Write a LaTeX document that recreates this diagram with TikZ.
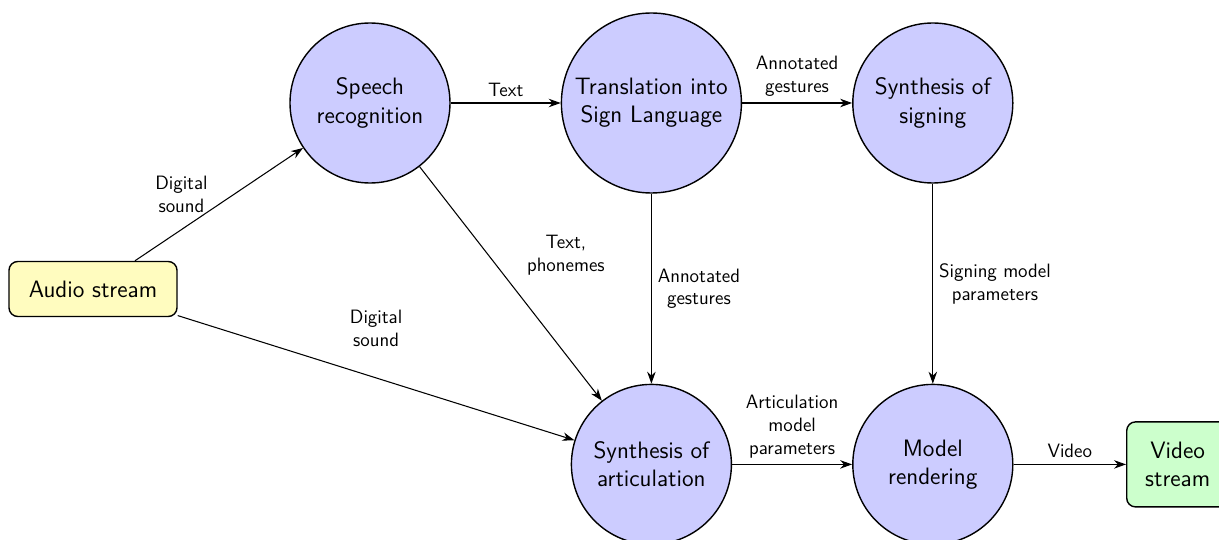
\documentclass[tikz,border=0pt]{standalone}
\usepackage{tikz}
\usetikzlibrary{arrows, arrows.meta, calc, positioning}

\begin{document}
\begin{tikzpicture}[font=\sffamily,>={Stealth[length=2.4mm,width=1.7mm]},
	stagestyle/.style={
	draw,circle,thick,fill=blue!20,minimum size=3.2cm,align=center,font=\sffamily\fontsize{13.5}{16}\selectfont,inner sep=0pt
},
	streamstyle/.style={
	draw,rectangle,rounded corners=5pt,align=center,font=\sffamily\fontsize{13.5}{16}\selectfont,thick
},
	lbl/.style={align=center,font=\sffamily\fontsize{11}{13}\selectfont}]
	\useasboundingbox (0,0) rectangle (24.38,-10.8);

	\node[streamstyle,fill=yellow!25,minimum width=3.36cm,minimum height=1.1cm] at (1.86,-5.78) (audio) {Audio stream};

	\node[stagestyle] at (7.4,-2.06) (speech) {Speech\\recognition};
	\node[stagestyle,minimum size=3.6cm,right=2.2cm of speech] (trans) {Translation into\\Sign Language};
	\node[stagestyle,right=2.2cm of trans] (signing) {Synthesis of\\signing};
	\node[stagestyle,below=3.8cm of trans] (artic) {Synthesis of\\articulation};
	\node[stagestyle] at (artic -| signing) (render) {Model\\rendering};
	\node[streamstyle,fill=green!20,minimum width=2.04cm,minimum height=1.7cm,right=2.25cm of render] (video) {Video\\stream};

	\draw[->,semithick] (audio) -- node[lbl,above left=-3mm and 1mm] {Digital\\sound} (speech);
	\draw[->,semithick] (audio) -- node[lbl,above=5mm] {Digital\\sound} (artic);
	\draw[->,semithick] (speech) -- node[lbl,above] {Text} (trans);
	\draw[->,semithick] (trans) -- node[lbl,above] {Annotated\\gestures} (signing);
	\draw[->,semithick] (speech) -- node[lbl,above right=0.4mm and 2mm] {Text,\\phonemes} (artic);
	\draw[->,semithick] (trans) -- node[lbl,right] {Annotated\\gestures} (artic);
	\draw[->,semithick] (signing) -- node[lbl,right] {Signing model\\parameters} (render);
	\draw[->,semithick] (artic) -- node[lbl,above] {Articulation\\model\\parameters} (render);
	\draw[->,semithick] (render) -- node[lbl,above] {Video} (video);
\end{tikzpicture}
\end{document}
